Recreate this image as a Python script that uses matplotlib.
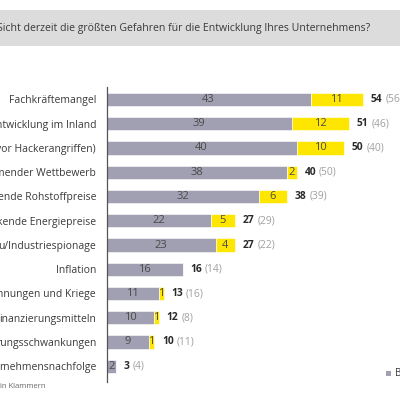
import matplotlib
matplotlib.use("Agg")
import matplotlib.pyplot as plt
from matplotlib.patches import Rectangle

labels = ["Fachkräftemangel", "ntwicklung im Inland", "vor Hackerangriffen)",
          "mender Wettbewerb", "ende Rohstoffpreise", "kende Energiepreise",
          "u/Industriespionage", "Inflation", "nnungen und Kriege",
          "inanzierungsmitteln", "rungsschwankungen", "rnehmensnachfolge"]
gray_vals = [43, 39, 40, 38, 32, 22, 23, 16, 11, 10, 9, 2]
yellow_vals = [11, 12, 10, 2, 6, 5, 4, 0, 1, 1, 1, 0]
totals = [54, 51, 50, 40, 38, 27, 27, 16, 13, 12, 10, 3]
previous = [56, 46, 40, 50, 39, 29, 22, 14, 16, 8, 11, 4]
title = "Sicht derzeit die größten Gefahren für die Entwicklung Ihres Unternehmens?"
footnote = "in Klammern"
legend_text = "B"

GRAY = "#a19fb2"
YELLOW = "#ffe600"
plt.rcParams['font.family'] = ['Open Sans', 'DejaVu Sans']

fig = plt.figure(figsize=(4, 4), dpi=100)
W = H = 400.0

# title banner
fig.patches.append(Rectangle((0, 1 - 46 / H), 1, 36 / H, transform=fig.transFigure,
                             facecolor="#dcdcdc", edgecolor="none", zorder=0))
fig.text(-3 / W, 1 - 29 / H, title, fontsize=7.6, color="#3a3a3a", va="center", ha="left")

left_px, top_px, bot_px = 106.5, 87, 382
scale = 4.75
ax = fig.add_axes([left_px / W, 1 - bot_px / H, 1 - left_px / W, (bot_px - top_px) / H])
n = len(labels)
ys = list(range(n))
ax.barh(ys, gray_vals, height=0.55, color=GRAY, edgecolor="white", linewidth=0.4)
ax.barh(ys, yellow_vals, left=gray_vals, height=0.55, color=YELLOW, edgecolor="white", linewidth=0.4)
ax.set_xlim(0, (W - left_px) / scale)
ax.set_ylim(11 + (bot_px - 99.5 - 24.25 * 11) / 24.25, -(99.5 - top_px) / 24.25)
ax.set_yticks(ys)
ax.set_yticklabels(labels, fontsize=7.5, color="#3a3a3a")
ax.tick_params(axis="y", length=0, pad=7.5)
ax.set_xticks([])
for s in ["top", "right", "bottom"]:
    ax.spines[s].set_visible(False)
ax.spines["left"].set_color("#555555")
ax.spines["left"].set_linewidth(0.9)
ax.set_facecolor("none")

for i in ys:
    g, yv = gray_vals[i], yellow_vals[i]
    ax.text(g / 2, i, str(g), ha="center", va="center", fontsize=8, color="#4a4a4a")
    if yv:
        ax.text(g + yv / 2, i, str(yv), ha="center", va="center", fontsize=8, color="#4a4a4a")
    t = ax.annotate(str(totals[i]), xy=(g + yv, i), xytext=(5.8, 0), textcoords="offset points",
                    ha="left", va="center", fontsize=7.4, fontweight="bold", color="#2a2a2a",
                    annotation_clip=False)
    ax.annotate(f"({previous[i]})", xy=(1, 0.5), xycoords=t, xytext=(2, 0),
                textcoords="offset points", ha="left", va="center", fontsize=7.4,
                color="#a0a0a0", annotation_clip=False)

fig.text(0 / W, 1 - 387 / H, footnote, fontsize=5.5, color="#666666", va="center", ha="left")
fig.patches.append(Rectangle((385.5 / W, 1 - 376 / H), 5 / W, 5 / H, transform=fig.transFigure,
                             facecolor=GRAY, edgecolor="none"))
fig.text(395 / W, 1 - 373.5 / H, legend_text, fontsize=7, color="#3a3a3a", va="center", ha="left")

fig.savefig("out.png", dpi=100, facecolor="white")
